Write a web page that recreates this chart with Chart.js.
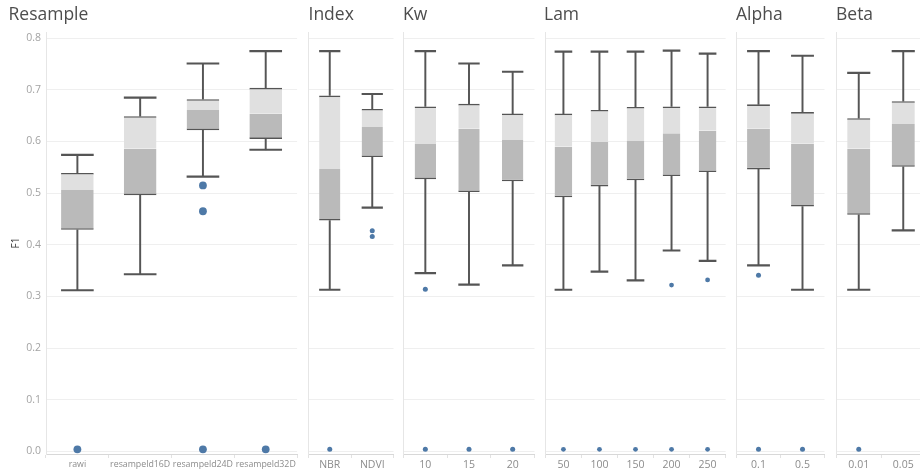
<!DOCTYPE html>
<html>
<head>
<meta charset="utf-8">
<script src="https://cdn.jsdelivr.net/npm/chart.js@4.4.1/dist/chart.umd.min.js"></script>
<style>
  html, body { margin: 0; padding: 0; background: #fff; overflow: hidden; width: 920px; height: 473px; }
  #wrap { position: relative; width: 920px; height: 473px; overflow: hidden; }
  .panel { position: absolute; top: 0; height: 473px; }
  .ttl { position: absolute; top: 1px; line-height: 24px; font-family: 'Open Sans', sans-serif; font-size: 17.5px; color: #4d4d4d; white-space: nowrap; }
</style>
</head>
<body>
<div id="wrap"></div>
<script>
// F1 score distributions per parameter setting:
// whisker low, Q1, median, Q3, whisker high and outliers per category.

const resampleCats = ['rawi', 'resampeld16D', 'resampeld24D', 'resampeld32D'];
const resampleLo  = [0.312, 0.343, 0.532, 0.584];
const resampleQ1  = [0.429, 0.496, 0.622, 0.605];
const resampleMed = [0.506, 0.586, 0.661, 0.654];
const resampleQ3  = [0.539, 0.649, 0.682, 0.704];
const resampleHi  = [0.574, 0.685, 0.751, 0.775];
const resampleOut = [[0.004], [], [0.515, 0.465, 0.004], [0.004]];

const indexCats = ['NBR', 'NDVI'];
const indexLo  = [0.313, 0.472];
const indexQ1  = [0.447, 0.570];
const indexMed = [0.547, 0.628];
const indexQ3  = [0.689, 0.663];
const indexHi  = [0.775, 0.692];
const indexOut = [[0.004], [0.427, 0.416]];

const kwCats = ['10', '15', '20'];
const kwLo  = [0.345, 0.323, 0.360];
const kwQ1  = [0.527, 0.502, 0.523];
const kwMed = [0.595, 0.625, 0.603];
const kwQ3  = [0.668, 0.673, 0.654];
const kwHi  = [0.775, 0.751, 0.735];
const kwOut = [[0.314, 0.004], [0.004], [0.004]];

const lamCats = ['50', '100', '150', '200', '250'];
const lamLo  = [0.313, 0.348, 0.331, 0.389, 0.369];
const lamQ1  = [0.492, 0.513, 0.525, 0.533, 0.541];
const lamMed = [0.590, 0.599, 0.601, 0.616, 0.621];
const lamQ3  = [0.654, 0.661, 0.667, 0.668, 0.668];
const lamHi  = [0.774, 0.774, 0.774, 0.776, 0.770];
const lamOut = [[0.004], [0.004], [0.004], [0.322, 0.004], [0.332, 0.004]];

const alphaCats = ['0.1', '0.5'];
const alphaLo  = [0.360, 0.313];
const alphaQ1  = [0.546, 0.474];
const alphaMed = [0.625, 0.596];
const alphaQ3  = [0.672, 0.657];
const alphaHi  = [0.775, 0.766];
const alphaOut = [[0.341, 0.004], [0.004]];

const betaCats = ['0.01', '0.05'];
const betaLo  = [0.313, 0.428];
const betaQ1  = [0.458, 0.551];
const betaMed = [0.586, 0.634];
const betaQ3  = [0.645, 0.678];
const betaHi  = [0.733, 0.775];
const betaOut = [[0.004], []];

const yTicks = [0.0, 0.1, 0.2, 0.3, 0.4, 0.5, 0.6, 0.7, 0.8];

// Panel layout: canvas placement, box width share, outlier size, tick font size
const panels = [
  { title: 'Resample', titleX: 8.5, left: 0, width: 301, axis: 46, pct: 0.52, dot: 3.9, tick: 8.8,
    cats: resampleCats, lo: resampleLo, q1: resampleQ1, med: resampleMed, q3: resampleQ3, hi: resampleHi, out: resampleOut },
  { title: 'Index', titleX: 308.5, left: 306, width: 90, axis: 0, pct: 0.50, dot: 2.5, tick: 10.5,
    cats: indexCats, lo: indexLo, q1: indexQ1, med: indexMed, q3: indexQ3, hi: indexHi, out: indexOut },
  { title: 'Kw', titleX: 403, left: 401, width: 136, axis: 0, pct: 0.49, dot: 2.5, tick: 10.5,
    cats: kwCats, lo: kwLo, q1: kwQ1, med: kwMed, q3: kwQ3, hi: kwHi, out: kwOut },
  { title: 'Lam', titleX: 544, left: 543, width: 185, axis: 0, pct: 0.49, dot: 2.4, tick: 10.5,
    cats: lamCats, lo: lamLo, q1: lamQ1, med: lamMed, q3: lamQ3, hi: lamHi, out: lamOut },
  { title: 'Alpha', titleX: 736, left: 734, width: 93, axis: 0, pct: 0.52, dot: 2.5, tick: 10.5,
    cats: alphaCats, lo: alphaLo, q1: alphaQ1, med: alphaMed, q3: alphaQ3, hi: alphaHi, out: alphaOut },
  { title: 'Beta', titleX: 836, left: 834, width: 94, axis: 0, pct: 0.52, dot: 2.5, tick: 10.5,
    cats: betaCats, lo: betaLo, q1: betaQ1, med: betaMed, q3: betaQ3, hi: betaHi, out: betaOut }
];

Chart.defaults.font.family = "'Open Sans', 'Noto Sans', sans-serif";

const wrap = document.getElementById('wrap');

function buildPanel(p) {
  const holder = document.createElement('div');
  holder.className = 'panel';
  holder.style.left = p.left + 'px';
  holder.style.width = p.width + 'px';
  const canvas = document.createElement('canvas');
  canvas.width = p.width;
  canvas.height = 473;
  holder.appendChild(canvas);
  wrap.appendChild(holder);

  const ttl = document.createElement('div');
  ttl.className = 'ttl';
  ttl.textContent = p.title;
  ttl.style.left = p.titleX + 'px';
  wrap.appendChild(ttl);

  const first = p.axis > 0;
  const halfBox = (ctx) => ctx.chart.scales.x.width / p.cats.length * p.pct / 2;

  const outliers = [];
  p.out.forEach((vals, i) => vals.forEach(v => outliers.push({ x: p.cats[i], y: v })));
  const caps = [];
  p.cats.forEach((c, i) => { caps.push({ x: c, y: p.lo[i] }); caps.push({ x: c, y: p.hi[i] }); });

  const whisker = { backgroundColor: '#555555', barThickness: 1.3, grouped: false, order: 2 };

  new Chart(canvas, {
    type: 'bar',
    data: {
      labels: p.cats,
      datasets: [
        { type: 'line', data: outliers, showLine: false, pointRadius: p.dot, pointHoverRadius: p.dot,
          pointBackgroundColor: '#4e79a7', pointBorderWidth: 0, order: 0, clip: 0 },
        { type: 'line', data: caps, showLine: false, pointStyle: 'line', pointRadius: halfBox,
          pointBorderWidth: 2.2, pointBorderColor: '#555555', order: 1 },
        Object.assign({ data: p.cats.map((c, i) => [p.q3[i], p.hi[i]]) }, whisker),
        Object.assign({ data: p.cats.map((c, i) => [p.lo[i], p.q1[i]]) }, whisker),
        { data: p.cats.map((c, i) => [p.med[i], p.q3[i]]), backgroundColor: '#e0e0e0',
          borderColor: '#555555', borderWidth: { top: 1.6, right: 0, bottom: 0, left: 0 }, borderSkipped: false,
          barPercentage: p.pct, categoryPercentage: 1, grouped: false, order: 3 },
        { data: p.cats.map((c, i) => [p.q1[i], p.med[i]]), backgroundColor: '#bababa',
          borderColor: '#555555', borderWidth: { top: 0, right: 0, bottom: 1.6, left: 0 }, borderSkipped: false,
          barPercentage: p.pct, categoryPercentage: 1, grouped: false, order: 3 }
      ]
    },
    options: {
      responsive: false,
      animation: false,
      events: [],
      layout: { padding: { top: 32, left: 0, right: 0, bottom: 0 } },
      plugins: { legend: { display: false }, tooltip: { enabled: false }, title: { display: false } },
      scales: {
        x: {
          offset: true,
          grid: { offset: true, drawOnChartArea: false, drawTicks: true, tickLength: 4, color: '#e2e2e2' },
          border: { display: true, color: '#d8d8d8', dash: [1, 1] },
          ticks: { autoSkip: false, maxRotation: 0, minRotation: 0, padding: 1, color: '#8c8c8c',
                   font: { size: p.tick } },
          afterFit: (s) => { s.height = 19; }
        },
        y: {
          min: -0.005,
          max: 0.812,
          afterBuildTicks: (s) => { s.ticks = yTicks.map(v => ({ value: v })); },
          ticks: { display: first, padding: 5, color: '#a3a3a3', font: { size: 10.5 },
                   callback: (v) => Number(v).toFixed(1) },
          grid: { color: '#efefef', drawTicks: false },
          border: { display: true, color: '#e6e6e6' },
          title: { display: first, text: 'F1', color: '#333333', font: { size: 10 }, padding: { top: 10, bottom: 0 } },
          afterFit: (s) => { s.width = p.axis; }
        }
      }
    }
  });
}

panels.forEach(buildPanel);
</script>
</body>
</html>
